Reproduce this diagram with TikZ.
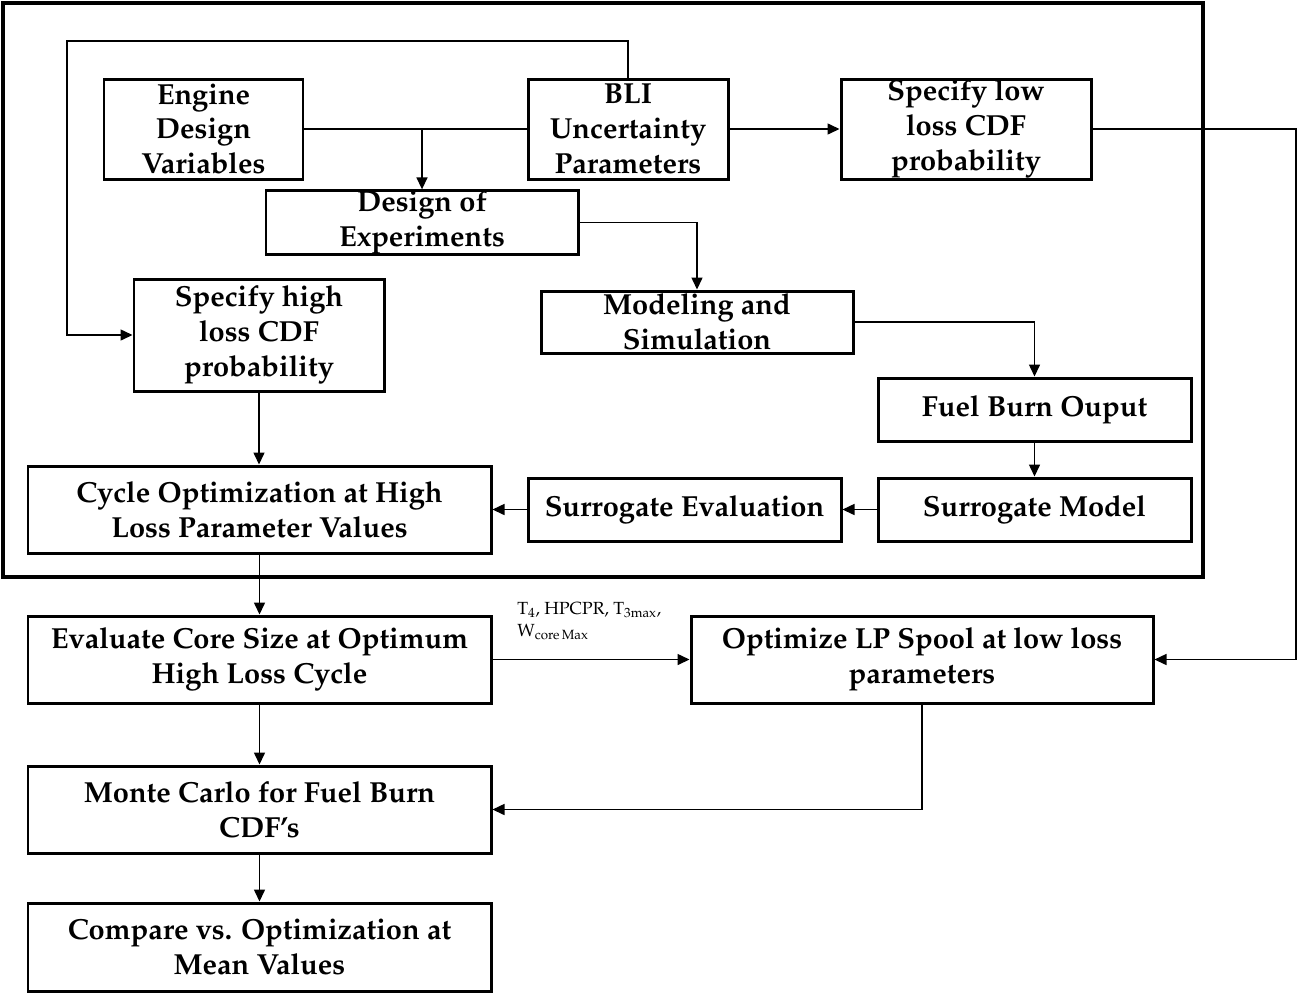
\documentclass[tikz,border=0pt]{standalone}
\usepackage[T1]{fontenc}
\usepackage{mathpazo}
\usepackage{tikz}
\usetikzlibrary{arrows.meta, positioning, calc}

\begin{document}
\begin{tikzpicture}[
    font=\fontsize{16.5}{19.9}\selectfont\bfseries,
    >={Triangle[length=2.4mm, width=2.2mm]},
    block/.style={
        draw=black,
        line width=1.7pt,
        align=center,
        inner xsep=4pt,
        inner ysep=0pt,
        minimum width=#1
    },
    line/.style={line width=0.85pt},
    arrow/.style={->, line width=0.85pt}
]

\useasboundingbox (0,0) rectangle (25.96,-19.88);

% Outer frame round the surrogate loop
\draw[line width=2.3pt] (0.06,-0.06) rectangle (24.06,-11.54);

% Top row
\node[block=3.98cm, minimum height=2.0cm] (eng) at (4.07,-2.58) {Engine\\Design\\Variables};
\node[block=4.0cm, minimum height=2.0cm] (bli) at (12.56,-2.58) {BLI\\Uncertainty\\Parameters};
\node[block=5.0cm, minimum height=2.0cm] (lowcdf) at (19.32,-2.58) {Specify low\\loss CDF\\probability};

% Design of experiments and simulation
\node[block=6.24cm, minimum height=1.22cm] (doe) at (8.44,-4.45) {Design of\\Experiments};
\node[block=5.0cm, minimum height=2.24cm] (highcdf) at (5.18,-6.70) {Specify high\\loss CDF\\probability};
\node[block=6.24cm, minimum height=1.24cm] (model) at (13.94,-6.44) {Modeling and\\Simulation};
\node[block=6.26cm, minimum height=1.26cm] (fuel) at (20.69,-8.19) {Fuel Burn Ouput};
\node[block=6.26cm, minimum height=1.26cm] (surr) at (20.69,-10.19) {Surrogate Model};
\node[block=6.26cm, minimum height=1.26cm] (seval) at (13.69,-10.19) {Surrogate Evaluation};
\node[block=9.26cm, minimum height=1.74cm] (cycopt) at (5.19,-10.19) {Cycle Optimization at High\\Loss Parameter Values};

% Lower part
\node[block=9.26cm, minimum height=1.74cm] (core) at (5.19,-13.19) {Evaluate Core Size at Optimum\\High Loss Cycle};
\node[block=9.24cm, minimum height=1.74cm] (lp) at (18.44,-13.19) {Optimize LP Spool at low loss\\parameters};
\node[block=9.26cm, minimum height=1.74cm] (monte) at (5.19,-16.19) {Monte Carlo for Fuel Burn\\CDF's};
\node[block=9.26cm, minimum height=1.76cm] (comp) at (5.19,-18.94) {Compare vs. Optimization at\\Mean Values};

\node[font=\fontsize{10}{12.5}\selectfont, align=left, anchor=north west, inner sep=0pt] (cond) at (10.34,-12.04)
    {T\textsubscript{4}, HPCPR, T\textsubscript{3max},\\W\textsubscript{core\,Max}};

\coordinate (lside) at (1.34,-0.82);
\coordinate (rside) at (25.92,-0.82);

% Connectors
\draw[arrow] (bli.north) |- (lside) |- (highcdf.west);
\draw[line] (eng.east) -- (bli.west);
\draw[arrow] (eng.east -| doe.north) -- (doe.north);
\draw[arrow] (bli) -- (lowcdf);
\draw[arrow] (lowcdf.east) -- (lowcdf.east -| rside) |- (lp.east);
\draw[arrow] (doe.east) -| (model.north);
\draw[arrow] (model.east) -| (fuel.north);
\draw[arrow] (fuel) -- (surr);
\draw[arrow] (surr) -- (seval);
\draw[arrow] (seval) -- (cycopt);
\draw[arrow] (highcdf.south) -- (highcdf.south |- cycopt.north);
\draw[arrow] (cycopt) -- (core);
\draw[arrow] (core) -- (lp);
\draw[arrow] (lp.south) |- (monte.east);
\draw[arrow] (core) -- (monte);
\draw[arrow] (monte) -- (comp);

\end{tikzpicture}
\end{document}
